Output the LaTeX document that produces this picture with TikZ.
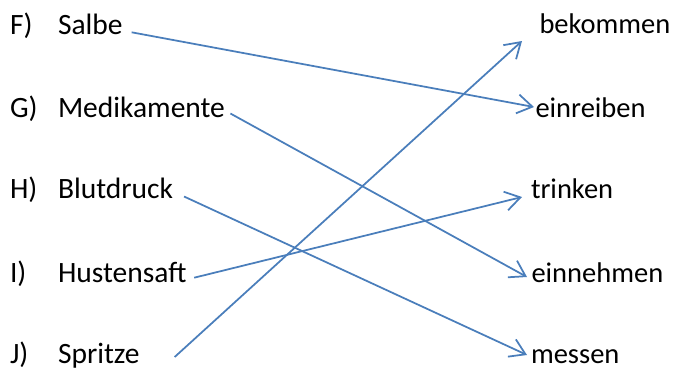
\documentclass[tikz,border=0pt]{standalone}
\usepackage{fontspec}
\setmainfont{Carlito}
\usetikzlibrary{arrows.meta,calc}
\definecolor{linkblue}{HTML}{4A7EBB}
\begin{document}
\begin{tikzpicture}[x=1pt,y=-1pt,
  txt/.style={anchor=base west,inner sep=0pt,outer sep=0pt,font=\fontsize{28.5}{34}\selectfont},
  ltxt/.style={txt,font=\fontsize{29.5}{35}\selectfont},
  conn/.style={draw=linkblue,line width=1.75pt,-{Straight Barb[length=15pt,width=19pt,line width=1.75pt]}}]
\useasboundingbox (0,0) rectangle (678,370);
% left labels
\node[ltxt] (lF) at (10,34) {F)};
\node[ltxt] (lG) at (10,117) {G)};
\node[ltxt] (lH) at (10,198) {H)};
\node[ltxt] (lI) at (10,282) {I)};
\node[ltxt] (lJ) at (10,363) {J)};
% left words
\node[ltxt] (salbe) at (58,34) {Salbe};
\node[ltxt] (medi) at (58,117) {Medikamente};
\node[ltxt] (blut) at (58,198) {Blutdruck};
\node[ltxt] (husten) at (58,282) {Hustensaft};
\node[ltxt] (spritze) at (58,363) {Spritze};
% right words
\node[txt] (bekommen) at (539.5,33) {bekommen};
\node[txt] (einreiben) at (535.5,117) {einreiben};
\node[txt] (trinken) at (531,198) {trinken};
\node[txt] (einnehmen) at (531.5,282) {einnehmen};
\node[txt] (messen) at (531,363) {messen};
% connectors
\draw[conn] ($(salbe.base east)+(9,-1.7)$) -- ($(einreiben.base west)+(-1.5,-10)$);
\draw[conn] ($(medi.base east)+(5.5,-3.5)$) -- ($(einnehmen.base west)+(-4.5,-5)$);
\draw[conn] ($(blut.base east)+(11,-1.5)$) -- ($(messen.base west)+(-4,-8)$);
\draw[conn] ($(husten.base east)+(7.7,-4.3)$) -- ($(trinken.base west)+(-9,-1)$);
\draw[conn] ($(spritze.base east)+(35,-6)$) -- ($(bekommen.base west)+(-17.5,8)$);
\end{tikzpicture}
\end{document}
